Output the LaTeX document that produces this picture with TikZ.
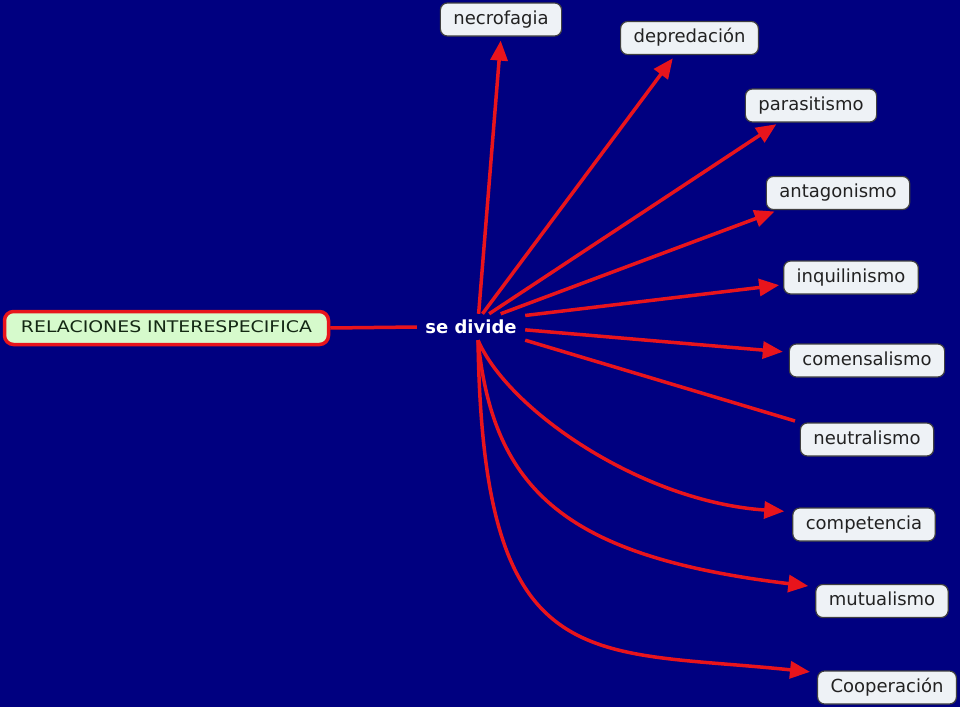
\documentclass[tikz,border=0pt]{standalone}
\usepackage{fontspec}
\setmainfont{DejaVu Sans}
\newfontfamily\relfont[FakeStretch=1.18]{DejaVu Sans}
\usetikzlibrary{arrows.meta}

\definecolor{fondo}{RGB}{0,0,128}
\definecolor{flecha}{RGB}{232,20,28}
\definecolor{caja}{RGB}{238,242,246}
\definecolor{verde}{RGB}{214,250,204}
\definecolor{texto}{RGB}{34,34,34}

\tikzset{
  concepto/.style={draw=black!75, line width=1.2pt, fill=caja, rounded corners=7pt,
    text=texto, font=\fontsize{18}{20}\selectfont, inner xsep=13pt, inner ysep=0pt,
    minimum height=33pt, text height=13pt, text depth=4pt},
  raiz/.style={draw=flecha, line width=3.5pt, fill=verde, rounded corners=9pt,
    text={rgb,255:red,20;green,40;blue,20}, font=\relfont\fontsize{16}{19}\selectfont,
    minimum width=324pt, minimum height=33pt, text height=12pt, text depth=3pt},
  enlace/.style={draw=flecha, line width=3.5pt},
  punta/.style={enlace, -{Triangle[length=20pt,width=17pt]}},
}

\begin{document}
\begin{tikzpicture}[x=1pt,y=-1pt]
	\useasboundingbox (0,0) rectangle (960,720);
	\fill[fondo] (0,0) rectangle (960,707);
	\fill[white] (0,707) rectangle (960,720);
	\node[raiz] (rel) at (166.5,328) {RELACIONES INTERESPECIFICA};
	\node[text=white, font=\bfseries\fontsize{18}{20}\selectfont, minimum width=108pt, minimum height=26pt, inner sep=0pt] (divide) at (471,327) {se divide};
	\node[concepto] (necro) at (501,19.5) {necrofagia};
	\node[concepto] (depre) at (689.5,38) {depredación};
	\node[concepto] (para) at (811,105.5) {parasitismo};
	\node[concepto] (antag) at (838,193) {antagonismo};
	\node[concepto] (inqui) at (851,277.5) {inquilinismo};
	\node[concepto] (comen) at (867,360.5) {comensalismo};
	\node[concepto] (neutra) at (867,439.5) {neutralismo};
	\node[concepto] (compet) at (864,524.5) {competencia};
	\node[concepto] (mutua) at (882,601) {mutualismo};
	\node[concepto] (coop) at (887,687.5) {Cooperación};
	\draw[enlace] (rel.east) -- (divide.west);
	\draw[punta, shorten >=4pt] (divide.60) -- (necro.south);
	\draw[punta, shorten >=4pt] (divide.49) -- (depre.-130);
	\draw[punta, shorten >=3pt] (divide.36) -- (para.-152);
	\draw[punta, shorten >=4pt] (divide.24) -- (antag.-164);
	\draw[punta, shorten >=4pt] (divide.12) -- (inqui.-174);
	\draw[punta, shorten >=6pt] (divide.-3) -- (comen.174);
	\draw[enlace, shorten >=5pt] (divide.south east) -- (neutra.north west);
	\draw[punta, shorten >=8pt] (divide.-62) .. controls +(30,70) and +(-150,-10) .. (compet.170);
	\draw[punta, shorten >=7pt] (divide.-62) .. controls +(15,150) and +(-250,-30) .. (mutua.168);
	\draw[punta, shorten >=7pt] (divide.-62) .. controls +(5,340) and +(-230,-24) .. (coop.168);
\end{tikzpicture}
\end{document}
